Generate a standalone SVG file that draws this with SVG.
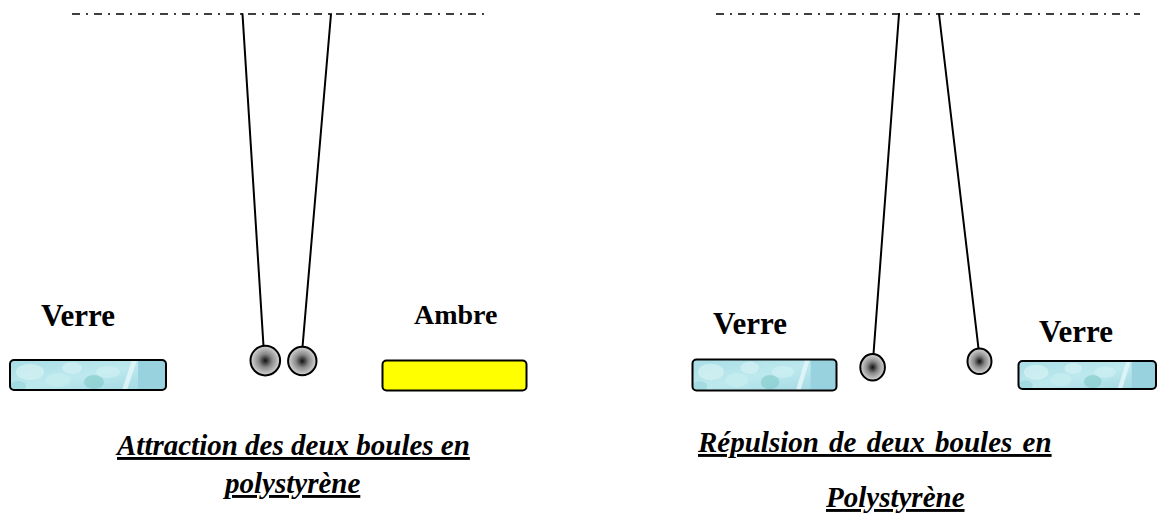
<svg xmlns="http://www.w3.org/2000/svg" width="1157" height="523" viewBox="0 0 1157 523">
  <style>
    .label { font-family: "Liberation Serif", "Times New Roman", serif; font-weight: bold; font-size: 28px; fill: #000; }
    .glass-label { font-size: 31px; }
    .caption { font-family: "Liberation Serif", "Times New Roman", serif; font-weight: bold; font-style: italic; font-size: 29px; fill: #000; text-decoration: underline; }
    .support { stroke: #000; stroke-width: 1.5; stroke-dasharray: 8 6 2 6; fill: none; }
    .thread { stroke: #000; stroke-width: 2; fill: none; stroke-linecap: round; }
    .ball { fill: url(#ballShade); stroke: #000; stroke-width: 2; }
    .bar { fill: none; stroke: #000; stroke-width: 2; }
  </style>
  <defs>
    <radialGradient id="ballShade" cx="0.5" cy="0.5" r="0.5">
      <stop offset="0" stop-color="#111"/>
      <stop offset="0.45" stop-color="#888"/>
      <stop offset="1" stop-color="#d8d8d8"/>
    </radialGradient>
    <linearGradient id="glassBase" x1="0" y1="0" x2="1" y2="1">
      <stop offset="0" stop-color="#a9dde6"/>
      <stop offset="0.5" stop-color="#bde9ee"/>
      <stop offset="1" stop-color="#9fd6e2"/>
    </linearGradient>
    <clipPath id="glassClip">
      <rect x="0" y="0" width="156" height="30" rx="4"/>
    </clipPath>
    <!-- frosted glass surface, stretched to each plate -->
    <symbol id="glass" viewBox="0 0 156 30" preserveAspectRatio="none">
      <g clip-path="url(#glassClip)">
        <rect x="0" y="0" width="156" height="30" fill="url(#glassBase)"/>
        <ellipse cx="20" cy="12" rx="14" ry="8" fill="#d6f2f4" opacity="0.7"/>
        <ellipse cx="48" cy="20" rx="12" ry="7" fill="#c8eef0" opacity="0.7"/>
        <ellipse cx="62" cy="8" rx="10" ry="6" fill="#d9f4f6" opacity="0.6"/>
        <ellipse cx="84" cy="22" rx="10" ry="7" fill="#7fcac8" opacity="0.6"/>
        <ellipse cx="98" cy="12" rx="12" ry="6" fill="#d2f1f3" opacity="0.6"/>
        <ellipse cx="8" cy="26" rx="8" ry="5" fill="#93d3d8" opacity="0.6"/>
        <path d="M112 30 L122 0 L127 0 L117 30 Z" fill="#e6f8fa" opacity="0.8"/>
        <rect x="128" y="0" width="28" height="30" fill="#98d2df"/>
      </g>
    </symbol>
  </defs>

  <!-- left experiment: attraction -->
  <g id="support-left">
    <line class="support" x1="72" y1="14" x2="484" y2="14"/>
  </g>
  <g id="connectors">
    <line class="thread" x1="242.5" y1="14" x2="263.5" y2="346"/>
    <line class="thread" x1="331" y1="14" x2="302.5" y2="347"/>
    <line class="thread" x1="899" y1="14" x2="873.5" y2="354"/>
    <line class="thread" x1="939" y1="14" x2="978.5" y2="348.5"/>
  </g>
  <g id="ball-left-1">
    <circle class="ball" cx="265.3" cy="360.6" r="14.8"/>
  </g>
  <g id="ball-left-2">
    <circle class="ball" cx="302.3" cy="361" r="14.2"/>
  </g>
  <g id="glass-left">
    <use href="#glass" x="10" y="360" width="156" height="30"/>
    <rect class="bar" x="10" y="360" width="156" height="30" rx="4"/>
    <text class="label glass-label" x="41" y="326">Verre</text>
  </g>
  <g id="amber">
    <rect x="382.5" y="360.5" width="144" height="30" rx="4" fill="#ffff00" stroke="#000" stroke-width="2"/>
    <text class="label" x="414" y="324">Ambre</text>
  </g>
  <g id="caption-left">
    <text class="caption" x="117" y="455">Attraction des deux boules en</text>
    <text class="caption" x="225" y="493">polystyrène</text>
  </g>

  <!-- right experiment: repulsion -->
  <g id="support-right">
    <line class="support" x1="716" y1="14" x2="1140" y2="14"/>
  </g>
  <g id="ball-right-1">
    <ellipse class="ball" cx="872.6" cy="367.3" rx="12.3" ry="13.2"/>
  </g>
  <g id="ball-right-2">
    <ellipse class="ball" cx="979.5" cy="361.3" rx="12" ry="12.8"/>
  </g>
  <g id="glass-right-1">
    <use href="#glass" x="692.5" y="359.5" width="144" height="31"/>
    <rect class="bar" x="692.5" y="359.5" width="144" height="31" rx="4"/>
    <text class="label glass-label" x="713" y="334">Verre</text>
  </g>
  <g id="glass-right-2">
    <use href="#glass" x="1018.5" y="361" width="138" height="28"/>
    <rect class="bar" x="1018.5" y="361" width="137.5" height="28" rx="4"/>
    <text class="label glass-label" x="1039" y="342">Verre</text>
  </g>
  <g id="caption-right">
    <text class="caption" x="698" y="452" font-size="30" word-spacing="3">Répulsion de deux boules en</text>
    <text class="caption" x="826" y="507">Polystyrène</text>
  </g>
</svg>
